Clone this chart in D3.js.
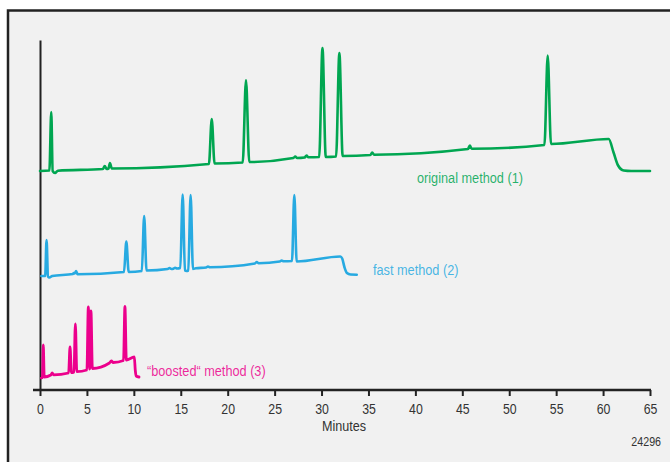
<!DOCTYPE html>
<html>
<head>
<meta charset="utf-8">
<script src="https://cdn.jsdelivr.net/npm/d3@7"></script>
<style>
  html, body { margin: 0; padding: 0; background: #ffffff; }
  svg { display: block; }
  .lbl { font-family: "Liberation Sans", Arial, sans-serif; }
</style>
</head>
<body>
<svg id="chart" width="670" height="462"></svg>
<script>
// ---- Data (time in minutes, detector signal in arbitrary units) ----
const xTicks = [0, 5, 10, 15, 20, 25, 30, 35, 40, 45, 50, 55, 60, 65];
const xLabel = "Minutes";
const figureId = "24296";

const seriesNames = ["original method (1)", "fast method (2)", "\u201Cboosted\u201C method (3)"];

const originalTrace = [
  [0, 219], [1.0, 219.5], [1.2, 278], [1.35, 219], [1.6, 217], [1.9, 219.3],
  [6.7, 221], [6.9, 224], [7.1, 221], [7.3, 221.5], [7.45, 227], [7.65, 221.5],
  [18.0, 226], [18.3, 271], [18.6, 226.5],
  [21.6, 227.5], [21.95, 310], [22.3, 228],
  [27.0, 232], [27.2, 233.5], [27.4, 232], [28.2, 232.5], [28.4, 234.5], [28.6, 232.7],
  [29.75, 233], [30.1, 342], [30.45, 233], [31.55, 233.5], [31.9, 337], [32.25, 234],
  [35.2, 235], [35.4, 237.5], [35.6, 235.3],
  [45.6, 241], [45.8, 244.5], [46.0, 241.2],
  [53.75, 245], [54.1, 334.5], [54.45, 246],
  [60.6, 251], [61.1, 238], [61.6, 224.5], [62.2, 219.5], [63, 219], [65, 219]
];

const fastTrace = [
  [0.15, 114], [0.55, 114], [0.7, 150], [0.85, 113.5], [1.0, 112.5], [1.3, 114],
  [3.5, 116], [3.6, 117], [3.7, 116.5], [3.85, 119], [4.0, 115.8],
  [8.95, 118], [9.2, 148.5], [9.45, 118],
  [10.85, 119], [11.1, 174], [11.35, 119.5],
  [13.6, 121], [13.8, 122], [14.0, 121], [14.2, 121.3], [14.4, 122.3], [14.6, 121.5],
  [14.95, 122], [15.2, 195.5], [15.45, 119.5], [15.6, 119], [15.8, 119.5], [16.05, 195], [16.3, 121],
  [16.6, 121.7], [17.7, 122.5], [17.9, 123.5], [18.1, 122.7],
  [22.9, 126.5], [23.1, 128], [23.3, 126.8],
  [25.55, 128.5], [25.75, 129.5], [25.95, 128.8],
  [26.85, 129], [27.1, 195], [27.35, 128.5],
  [32.0, 133.5], [32.2, 131.5], [32.45, 122.5], [32.7, 117], [33.1, 115.5], [33.75, 115.3]
];

const boostedTrace = [
  [0.15, 12], [0.25, 12.5], [0.35, 45], [0.45, 13], [1.15, 15], [1.3, 17], [1.45, 15.2],
  [3.05, 17], [3.2, 43], [3.35, 17.3], [3.62, 18], [3.77, 66], [3.92, 18.3],
  [5.0, 20], [5.15, 83], [5.29, 21], [5.43, 79], [5.58, 21.5],
  [7.4, 27], [7.6, 29], [7.8, 27.5],
  [8.9, 29.5], [9.05, 83.5], [9.2, 30],
  [10.05, 33], [10.15, 20], [10.25, 14], [10.55, 13]
];

const seriesColors = ["#00a651", "#27aae1", "#ec008c"];

// ---- Drawing ----
const svg = d3.select("#chart");

// condensed look: squeeze each text to ~82% of its natural width
function condense(sel, f) {
  sel.each(function () {
    const w = this.getComputedTextLength();
    d3.select(this).attr("textLength", w * f).attr("lengthAdjust", "spacingAndGlyphs");
  });
}

// frame
svg.append("rect")
  .attr("x", 8).attr("y", 10.5)
  .attr("width", 700).attr("height", 500)
  .attr("fill", "#f1f1f1")
  .attr("stroke", "#222")
  .attr("stroke-width", 2.5);

const x = d3.scaleLinear().domain([0, 65]).range([40, 650]);
const y = d3.scaleLinear().domain([0, 350]).range([390, 40]);

// y axis (plain line)
svg.append("g")
  .attr("transform", `translate(${x(0)},0)`)
  .call(d3.axisLeft(y).tickValues([]).tickSizeOuter(0))
  .call(g => g.select(".domain").attr("stroke", "#222").attr("stroke-width", 2));

// x axis
const xAxisG = svg.append("g")
  .attr("transform", `translate(0,${y(0)})`)
  .call(d3.axisBottom(x).tickValues(xTicks).tickSize(6).tickPadding(7).tickSizeOuter(0));
xAxisG.select(".domain").remove();
xAxisG.append("line")
  .attr("x1", x(0) - 7).attr("x2", x(65) + 1)
  .attr("y1", 0).attr("y2", 0)
  .attr("stroke", "#222").attr("stroke-width", 2.5);
xAxisG.selectAll(".tick line").attr("stroke", "#222").attr("stroke-width", 2);
xAxisG.selectAll(".tick text")
  .attr("class", "lbl")
  .attr("font-family", null)
  .attr("fill", "#333")
  .style("font-size", "15px")
  .call(condense, 0.82);

svg.append("text")
  .attr("class", "lbl")
  .attr("x", x(32.4)).attr("y", 431)
  .attr("text-anchor", "middle")
  .attr("fill", "#333")
  .style("font-size", "15px")
  .text(xLabel)
  .call(condense, 0.84);

svg.append("text")
  .attr("class", "lbl")
  .attr("x", 661).attr("y", 446)
  .attr("text-anchor", "end")
  .attr("fill", "#333")
  .style("font-size", "13px")
  .text(figureId)
  .call(condense, 0.82);

// traces
const line = d3.line()
  .x(d => x(d[0]))
  .y(d => y(d[1]))
  .curve(d3.curveMonotoneX);

const traces = [originalTrace, fastTrace, boostedTrace];
const widths = [2.6, 2.6, 2.8];
traces.forEach((t, i) => {
  svg.append("path")
    .datum(t)
    .attr("d", line)
    .attr("fill", "none")
    .attr("stroke", seriesColors[i])
    .attr("stroke-width", widths[i])
    .attr("stroke-linejoin", "round")
    .attr("stroke-linecap", "round");
});

// series labels
const labelPos = [[40.17, 207], [35.48, 115.5], [11.4, 13.7]];
seriesNames.forEach((name, i) => {
  svg.append("text")
    .attr("class", "lbl")
    .attr("x", x(labelPos[i][0]))
    .attr("y", y(labelPos[i][1]))
    .attr("fill", seriesColors[i])
    .attr("fill-opacity", 0.85)
    .style("font-size", "15.5px")
    .text(name)
    .call(condense, 0.82);
});
</script>
</body>
</html>
